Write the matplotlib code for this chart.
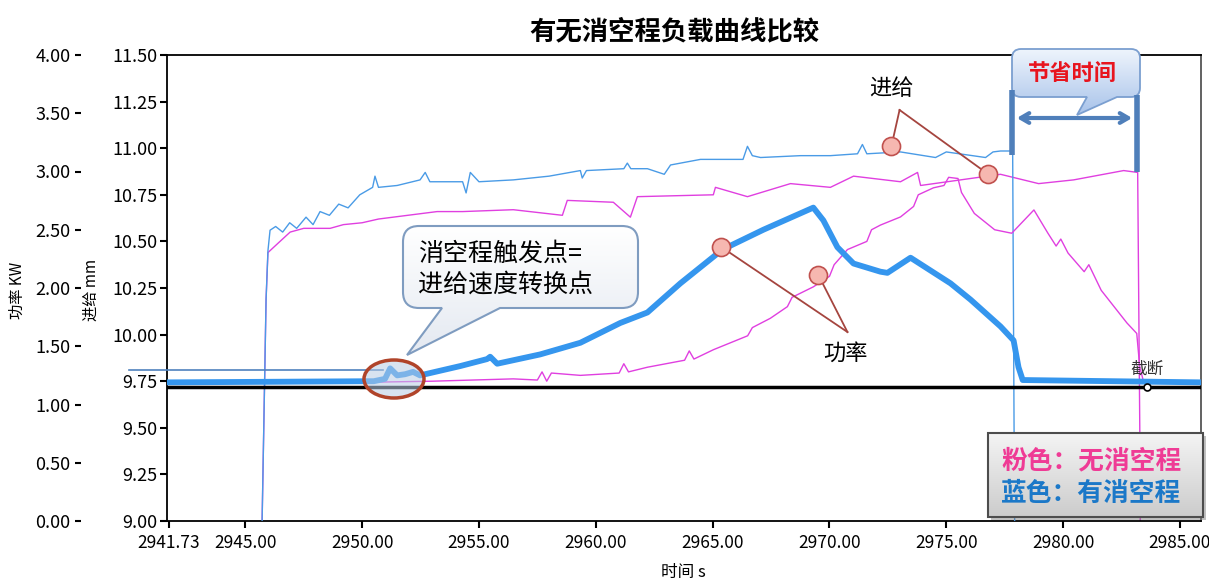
import numpy as np
import matplotlib
matplotlib.use("Agg")
import matplotlib.pyplot as plt
from matplotlib.patches import Ellipse, FancyBboxPatch, PathPatch, Rectangle
from matplotlib.path import Path
from matplotlib.colors import LinearSegmentedColormap

plt.rcParams['font.family'] = ['Noto Sans CJK SC', 'DejaVu Sans']

# ---- data ----
# feed, with idle travel removal (blue, thin)
t_feed_blue = [2941.73, 2945.66, 2945.72, 2945.89, 2945.97, 2946.06, 2946.30, 2946.60, 2946.90,
               2947.20, 2947.60, 2947.90, 2948.20, 2948.60, 2949.00, 2949.40,
               2949.90, 2950.45, 2950.55, 2950.70, 2951.50, 2952.48, 2952.70, 2952.90, 2954.30,
               2954.45, 2954.63, 2955.00, 2956.47, 2958.00, 2959.34, 2959.42, 2959.60, 2961.20,
               2961.35, 2961.50, 2962.21, 2962.93, 2963.20, 2964.48, 2966.30, 2966.49, 2966.70,
               2967.05, 2968.76, 2970.04, 2971.20, 2971.41, 2971.60, 2973.04, 2974.54, 2975.00,
               2976.68, 2977.00, 2977.32, 2977.84, 2977.90, 2977.95, 2985.90]
feed_blue = [8.60, 8.60, 9.00, 10.19, 10.45, 10.56, 10.58, 10.55, 10.60,
             10.57, 10.63, 10.59, 10.66, 10.64, 10.70, 10.68,
             10.75, 10.79, 10.85, 10.79, 10.80, 10.83, 10.87, 10.82, 10.82,
             10.76, 10.87, 10.82, 10.83, 10.85, 10.88, 10.84, 10.88, 10.89,
             10.92, 10.89, 10.89, 10.86, 10.91, 10.94, 10.94, 11.01, 10.96,
             10.95, 10.96, 10.96, 10.97, 11.02, 10.97, 10.98, 10.95, 10.98,
             10.95, 10.98, 10.985, 10.985, 9.50, 8.50, 8.50]

# feed, without idle travel removal (pink, thin)
t_feed_pink = [2941.73, 2945.66, 2945.72, 2945.89, 2945.97, 2946.40, 2946.92, 2947.50, 2948.63,
               2949.20, 2950.00, 2950.70, 2953.21, 2954.30, 2956.47, 2958.57, 2958.78, 2960.75,
               2961.48, 2961.78, 2965.03, 2965.12, 2966.49, 2968.33, 2970.04, 2971.03, 2973.04,
               2973.77, 2973.90, 2977.32, 2978.95, 2980.45, 2982.59, 2983.19, 2983.28, 2983.32,
               2985.90]
feed_pink = [8.60, 8.60, 9.00, 10.19, 10.44, 10.49, 10.55, 10.57, 10.57,
             10.59, 10.60, 10.62, 10.66, 10.66, 10.67, 10.64, 10.72, 10.71,
             10.63, 10.74, 10.75, 10.79, 10.74, 10.81, 10.79, 10.85, 10.82,
             10.87, 10.80, 10.86, 10.81, 10.83, 10.88, 10.87, 9.50, 8.50,
             8.50]

# power, with idle travel removal (blue, thick)
t_power_blue = [2941.73, 2950.50, 2950.98, 2951.20, 2951.50, 2951.84, 2952.18, 2952.48, 2952.91,
                2954.20, 2955.35, 2955.48, 2955.78, 2957.62, 2959.34, 2961.05, 2962.21, 2963.62,
                2965.42, 2967.17, 2969.31, 2969.74, 2970.34, 2971.03, 2972.18, 2972.48, 2973.47,
                2975.18, 2976.04, 2977.32, 2977.88, 2978.09, 2978.27, 2985.90]
power_blue = [1.19, 1.20, 1.22, 1.31, 1.25, 1.26, 1.28, 1.25, 1.27,
              1.33, 1.39, 1.41, 1.35, 1.43, 1.53, 1.70, 1.79, 2.04,
              2.33, 2.50, 2.69, 2.58, 2.35, 2.21, 2.14, 2.13, 2.26,
              2.04, 1.90, 1.67, 1.55, 1.32, 1.21, 1.19]

# power, without idle travel removal (pink, thin, with visible ripple)
t_power_pink = [2941.73, 2950.00, 2953.00, 2956.47, 2957.50, 2957.70, 2957.90, 2958.10,
                2959.34, 2961.00, 2961.20, 2961.40, 2962.21, 2963.80, 2964.00, 2964.20,
                2965.03, 2966.50, 2966.70, 2967.47, 2968.20, 2968.40, 2969.31, 2970.00,
                2970.20, 2970.77, 2971.60, 2971.80, 2972.18, 2973.04, 2973.60, 2973.80,
                2974.45, 2974.90, 2975.10, 2975.50, 2975.65, 2976.20, 2977.07, 2977.80,
                2978.75, 2979.35, 2979.70, 2979.90, 2980.21, 2980.90, 2981.10, 2981.63,
                2982.73, 2983.15, 2983.28, 2983.45, 2985.90]
power_pink = [1.19, 1.19, 1.20, 1.22, 1.21, 1.28, 1.20, 1.27,
              1.25, 1.27, 1.35, 1.28, 1.32, 1.38, 1.46, 1.39,
              1.47, 1.59, 1.66, 1.74, 1.84, 1.92, 2.01, 2.10,
              2.20, 2.33, 2.40, 2.50, 2.54, 2.61, 2.70, 2.80,
              2.86, 2.88, 2.95, 2.94, 2.82, 2.64, 2.50, 2.47,
              2.67, 2.47, 2.36, 2.42, 2.30, 2.14, 2.20, 1.98,
              1.70, 1.61, 1.32, 1.19, 1.19]

cutoff_power = 1.146
cutoff_t = 2983.6

x_ticks = [2941.73, 2945, 2950, 2955, 2960, 2965, 2970, 2975, 2980, 2985]
x_labels = ['2941.73', '2945.00', '2950.00', '2955.00', '2960.00', '2965.00',
            '2970.00', '2975.00', '2980.00', '2985.00']
feed_ticks = np.arange(9.0, 11.51, 0.25)
power_ticks = np.arange(0.0, 4.01, 0.5)

BLUE = '#3596ee'
BLUE_THIN = '#4a9be6'
PINK = '#e03fe0'

# ---- figure ----
W, H = 1209, 588
fig = plt.figure(figsize=(W / 100, H / 100), dpi=100)
fig.patch.set_facecolor('white')

ax = fig.add_axes([167 / W, 1 - 521 / H, (1201 - 167) / W, (521 - 55) / H])
ax.set_xlim(2941.65, 2985.9)
ax.set_ylim(9.0, 11.5)
ax.plot(t_feed_pink, feed_pink, color=PINK, lw=1.0, zorder=2)
ax.plot(t_feed_blue, feed_blue, color=BLUE_THIN, lw=1.0, zorder=3)

ax.set_xticks(x_ticks)
ax.set_xticklabels(x_labels)
ax.set_yticks(feed_ticks)
ax.set_yticklabels(['%.2f' % v for v in feed_ticks])
ax.tick_params(axis='x', direction='out', length=5, width=1.5, labelsize=12.5, pad=4)
ax.tick_params(axis='y', direction='out', length=5, width=1.5, labelsize=13, pad=2,
               right=True, labelright=False)
for s in ax.spines.values():
    s.set_linewidth(1.3)
ax.spines['right'].set_color('#555555')

ax2 = ax.twinx()
ax2.set_ylim(0, 4)
ax2.yaxis.tick_left()
ax2.spines['left'].set_position(('outward', 62))
for s in ax2.spines.values():
    s.set_visible(False)
ax2.set_yticks(power_ticks)
ax2.set_yticklabels(['%.2f' % v for v in power_ticks])
ax2.tick_params(axis='y', direction='out', length=4.5, width=1.5, labelsize=13, pad=3)

ax2.plot(t_power_pink, power_pink, color=PINK, lw=1.0, zorder=2)
ax2.plot(t_power_blue, power_blue, color=BLUE, lw=4.2, zorder=3, solid_joinstyle='round')
ax2.axhline(cutoff_power, color='black', lw=2.5, zorder=4)
ax2.plot([cutoff_t], [cutoff_power], 'o', ms=5, mfc='white', mec='black', mew=1.2, zorder=5)
ax2.text(cutoff_t, 1.30, '截断', fontsize=12, ha='center', va='center', color='#333333', zorder=5)

# leader lines + circles
circ = dict(marker='o', ms=13, mfc='#f6b7b0', mec='#c0504d', mew=1.2, ls='none', zorder=8)
lead = dict(color='#a5453f', lw=1.3, zorder=7)
ax.text(2972.65, 11.318, '进给', fontsize=16, ha='center', va='center')
ax.plot([2973.0, 2972.65], [11.205, 11.01], **lead)
ax.plot([2973.0, 2976.8], [11.205, 10.86], **lead)
ax.plot([2972.65, 2976.8], [11.01, 10.86], **circ)

ax2.text(2970.68, 1.442, '功率', fontsize=16, ha='center', va='center')
ax2.plot([2970.77, 2965.37], [1.622, 2.352], **lead)
ax2.plot([2970.77, 2969.53], [1.622, 2.11], **lead)
ax2.plot([2965.37, 2969.53], [2.352, 2.11], **circ)

# ---- overlay in pixel coords ----
ov = fig.add_axes([0, 0, 1, 1])
ov.set_zorder(10)
ov.patch.set_visible(False)
ov.axis('off')


def callout_path(x0, y0, x1, y1, r, tail):
    b0, tip, b1 = tail
    verts = [(x0 + r, y0), (x1 - r, y0), (x1, y0), (x1, y0 + r), (x1, y1 - r),
             (x1, y1), (x1 - r, y1), (b1, y1), tip, (b0, y1), (x0 + r, y1),
             (x0, y1), (x0, y1 - r), (x0, y0 + r), (x0, y0), (x0 + r, y0), (x0 + r, y0)]
    codes = [Path.MOVETO, Path.LINETO, Path.CURVE3, Path.CURVE3, Path.LINETO,
             Path.CURVE3, Path.CURVE3, Path.LINETO, Path.LINETO, Path.LINETO, Path.LINETO,
             Path.CURVE3, Path.CURVE3, Path.LINETO, Path.CURVE3, Path.CURVE3, Path.CLOSEPOLY]
    return Path(verts, codes)


def grad_fill(patch, x0, y0, x1, y1, c_top, c_bot, z):
    cm = LinearSegmentedColormap.from_list('g', [c_top, c_bot])
    im = ov.imshow(np.linspace(0, 1, 64).reshape(-1, 1), cmap=cm, extent=(x0, x1, y1, y0),
                   aspect='auto', origin='upper', zorder=z, interpolation='bilinear')
    im.set_clip_path(patch)


# thin horizontal marker line and ellipse around trigger point
ov.plot([129, 383], [370, 370], color='#4f81bd', lw=1.2, zorder=1)
ov.add_patch(Ellipse((394, 379), 60, 38, facecolor='#b8cce4', alpha=0.55, edgecolor='none', zorder=2))
ov.add_patch(Ellipse((394, 379), 60, 38, facecolor='none', edgecolor='#b0442a', lw=2.5, zorder=3))

# callout 1
p1 = PathPatch(callout_path(403, 226, 638, 308, 16, (442, (407, 355), 500)),
               facecolor='none', edgecolor='#7f9cc0', lw=1.5, zorder=5)
ov.add_patch(p1)
grad_fill(p1, 403, 226, 638, 355, '#ffffff', '#e4e9f1', 4)
ov.text(418, 269, '消空程触发点=\n进给速度转换点', fontsize=18, ha='left', va='center',
        linespacing=1.25, zorder=6)

# callout 2 "节省时间"
p2 = PathPatch(callout_path(1012, 49, 1140, 97, 9, (1087, (1077, 115), 1117)),
               facecolor='none', edgecolor='#7b9fd0', lw=1.3, zorder=5)
ov.add_patch(p2)
grad_fill(p2, 1012, 49, 1140, 115, '#eef4fc', '#a8c3ea', 4)
ov.text(1072, 73, '节省时间', fontsize=16, fontweight='bold', color='#e8141e',
        ha='center', va='center', zorder=6)

# time-saved double arrow
ov.plot([1012, 1012], [90, 155], color='#4f7fba', lw=4, zorder=6, solid_capstyle='butt')
ov.plot([1137, 1137], [95, 172], color='#4f7fba', lw=4, zorder=6, solid_capstyle='butt')
ov.annotate('', xy=(1135, 118), xytext=(1014, 118),
            arrowprops=dict(arrowstyle='<->,head_length=0.6,head_width=0.35',
                            color='#4f7fba', lw=3), zorder=6)

# legend box
ov.add_patch(Rectangle((991, 436), 215, 84, facecolor='#777777', alpha=0.45, edgecolor='none', zorder=4))
p3 = FancyBboxPatch((988, 433), 215, 84, boxstyle='square,pad=0', facecolor='none',
                    edgecolor='#4d4d4d', lw=1.5, zorder=6)
ov.add_patch(p3)
grad_fill(p3, 988, 433, 1203, 517, '#f4f4f4', '#cccccc', 5)
ov.text(1001, 461, '粉色：无消空程', fontsize=18.5, fontweight='bold', color='#ef3b95',
        ha='left', va='center', zorder=7)
ov.text(1001, 493, '蓝色：有消空程', fontsize=18.5, fontweight='bold', color='#1b78c8',
        ha='left', va='center', zorder=7)

ov.set_xlim(0, W)
ov.set_ylim(H, 0)

# titles / axis labels
fig.text(674 / W, 1 - 32 / H, '有无消空程负载曲线比较', fontsize=19, fontweight='bold',
         ha='center', va='center')
fig.text(683 / W, 1 - 573 / H, '时间 s', fontsize=12, ha='center', va='center')
fig.text(17 / W, 1 - 290 / H, '功率 KW', fontsize=11, rotation=90, ha='center', va='center')
fig.text(91 / W, 1 - 290 / H, '进给 mm', fontsize=11, rotation=90, ha='center', va='center')

fig.savefig('out.png', dpi=100)
